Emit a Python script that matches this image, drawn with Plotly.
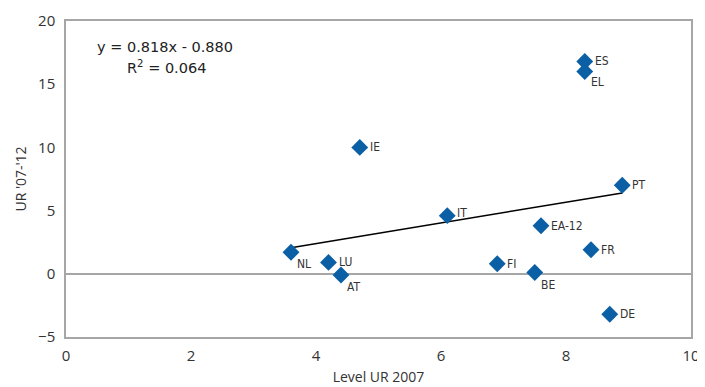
import plotly.graph_objects as go

countries = ["NL", "LU", "AT", "IE", "IT", "FI", "BE", "EA-12", "FR", "ES", "EL", "PT", "DE"]
level_ur_2007 = [3.6, 4.2, 4.4, 4.7, 6.1, 6.9, 7.5, 7.6, 8.4, 8.3, 8.3, 8.9, 8.7]
ur_change_07_12 = [1.7, 0.9, -0.1, 10.0, 4.6, 0.8, 0.1, 3.8, 1.9, 16.8, 16.0, 7.0, -3.2]
label_below = ["NL", "AT", "BE", "EL"]

slope = 0.818
intercept = -0.880
r2 = 0.064

xmin, xmax = min(level_ur_2007), max(level_ur_2007)
trend_x = [xmin, xmax]
trend_y = [slope * v + intercept for v in trend_x]

label_font = "DejaVu Sans Condensed, Liberation Sans Narrow, sans-serif"
main_font = "Open Sans, sans-serif"

fig = go.Figure()
fig.add_trace(go.Scatter(x=trend_x, y=trend_y, mode="lines",
                         line=dict(color="black", width=1.5), hoverinfo="skip"))
fig.add_trace(go.Scatter(
    x=level_ur_2007, y=ur_change_07_12, mode="markers", hovertext=countries,
    marker=dict(symbol="diamond", size=13, color="#0B5FA5"),
))

for c, xv, yv in zip(countries, level_ur_2007, ur_change_07_12):
    if c in label_below:
        fig.add_annotation(x=xv, y=yv, text=c, showarrow=False, xanchor="left", yanchor="top",
                           xshift=4, yshift=-1 if c == "EL" else -3,
                           font=dict(family=label_font, size=12, color="#333333"))
    else:
        fig.add_annotation(x=xv, y=yv, text=c, showarrow=False, xanchor="left", yanchor="middle",
                           xshift=8, yshift=3 if c == "IT" else 0,
                           font=dict(family=label_font, size=12, color="#333333"))

fig.add_annotation(
    xref="paper", yref="paper", x=(165 - 66) / 625, y=1 - (47 - 21) / 316,
    xanchor="center", yanchor="middle",
    text=f"y = {slope:.3f}x - {abs(intercept):.3f}",
    showarrow=False, font=dict(family="DejaVu Sans, sans-serif", size=14.5, color="#222222"),
)
fig.add_annotation(
    xref="paper", yref="paper", x=(166 - 66) / 625, y=1 - (67 - 21) / 316,
    xanchor="center", yanchor="middle",
    text=f"R<sup>2</sup> = {r2:.3f}",
    showarrow=False, font=dict(family="DejaVu Sans, sans-serif", size=14.5, color="#222222"),
)

axis_common = dict(showgrid=False, showline=True, linecolor="#a6a6a6", linewidth=1.5,
                   mirror=True, ticks="", automargin=False,
                   tickfont=dict(family=main_font, size=15, color="#333333"))
fig.update_xaxes(range=[0, 10], dtick=2, zeroline=False, ticklabelstandoff=4,
                 title=dict(text="Level UR 2007", font=dict(family=main_font, size=14, color="#333333"), standoff=8),
                 **axis_common)
fig.update_yaxes(range=[-5, 20], dtick=5, zeroline=True, zerolinecolor="#a6a6a6", zerolinewidth=1.5,
                 ticklabelstandoff=6,
                 title=dict(text="UR '07-'12", font=dict(family=main_font, size=14, color="#333333"), standoff=8),
                 **axis_common)

# page body has an 8px margin: shift figure so the plot area lands where the reference has it
fig.update_layout(width=697, height=379, margin=dict(l=58, r=14, t=13, b=50),
                  plot_bgcolor="white", paper_bgcolor="white", showlegend=False)
fig.write_html("out.html")
